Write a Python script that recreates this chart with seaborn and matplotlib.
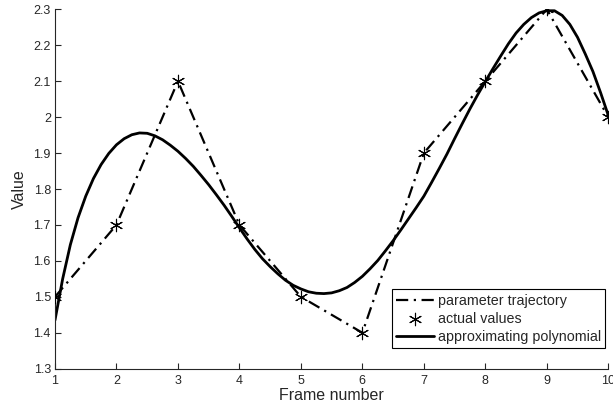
import matplotlib
matplotlib.use("Agg")
import matplotlib.pyplot as plt
import seaborn as sns
import pandas as pd

frames = [1, 2, 3, 4, 5, 6, 7, 8, 9, 10]
actual_values = [1.5, 1.7, 2.1, 1.7, 1.5, 1.4, 1.9, 2.1, 2.3, 2.0]

poly_x = [1.0, 1.125, 1.25, 1.375, 1.5, 1.625, 1.75, 1.875,
          2.0, 2.125, 2.25, 2.375, 2.5, 2.625, 2.75, 2.875,
          3.0, 3.125, 3.25, 3.375, 3.5, 3.625, 3.75, 3.875,
          4.0, 4.125, 4.25, 4.375, 4.5, 4.625, 4.75, 4.875,
          5.0, 5.125, 5.25, 5.375, 5.5, 5.625, 5.75, 5.875,
          6.0, 6.125, 6.25, 6.375, 6.5, 6.625, 6.75, 6.875,
          7.0, 7.125, 7.25, 7.375, 7.5, 7.625, 7.75, 7.875,
          8.0, 8.125, 8.25, 8.375, 8.5, 8.625, 8.75, 8.875,
          9.0, 9.125, 9.25, 9.375, 9.5, 9.625, 9.75, 9.875, 10.0]
poly_y = [1.435, 1.550, 1.645, 1.720, 1.780, 1.829, 1.868, 1.899,
          1.923, 1.940, 1.951, 1.956, 1.955, 1.948, 1.937, 1.922,
          1.905, 1.885, 1.863, 1.838, 1.812, 1.784, 1.755, 1.724,
          1.692, 1.661, 1.632, 1.606, 1.584, 1.564, 1.546, 1.532,
          1.522, 1.514, 1.510, 1.509, 1.511, 1.517, 1.526, 1.540,
          1.557, 1.578, 1.601, 1.628, 1.656, 1.686, 1.717, 1.748,
          1.780, 1.818, 1.857, 1.897, 1.940, 1.982, 2.023, 2.062,
          2.099, 2.135, 2.170, 2.204, 2.234, 2.258, 2.277, 2.290,
          2.296, 2.296, 2.283, 2.258, 2.222, 2.176, 2.127, 2.068, 2.005]

x_ticks = [1, 2, 3, 4, 5, 6, 7, 8, 9, 10]
y_ticks = [1.3, 1.4, 1.5, 1.6, 1.7, 1.8, 1.9, 2.0, 2.1, 2.2, 2.3]
y_tick_labels = ["1.3", "1.4", "1.5", "1.6", "1.7", "1.8", "1.9", "2", "2.1", "2.2", "2.3"]

df_act = pd.DataFrame({"frame": frames, "value": actual_values})
df_poly = pd.DataFrame({"frame": poly_x, "value": poly_y})

sns.set_style("ticks")
plt.rcParams["font.family"] = ["Liberation Sans", "DejaVu Sans"]

fig = plt.figure(figsize=(6.13, 4.08), dpi=100)
ax = fig.add_axes([0.0897, 0.0963, 0.9026, 0.8809])

sns.lineplot(data=df_act, x="frame", y="value", ax=ax, color="black",
             linewidth=1.6, dashes=False, label="parameter trajectory", sort=False)
ax.lines[-1].set_dashes([5.5, 2.5, 1, 2.5])
sns.scatterplot(data=df_act, x="frame", y="value", ax=ax, color="black",
                marker=(6, 2, 0), s=80, linewidth=0.8, label="actual values", zorder=4)
sns.lineplot(data=df_poly, x="frame", y="value", ax=ax, color="black",
             linewidth=2.0, label="approximating polynomial", sort=False)

ax.set_xlim(1, 10)
ax.set_ylim(1.3, 2.3)
ax.set_xticks(x_ticks)
ax.set_xticklabels([str(t) for t in x_ticks])
ax.set_yticks(y_ticks)
ax.set_yticklabels(y_tick_labels)
ax.tick_params(direction="in", length=4, width=0.8, labelsize=9)
ax.tick_params(axis="x", pad=4.5)
ax.tick_params(axis="y", pad=3)
ax.set_xlabel("Frame number", fontsize=11.5, labelpad=1)
ax.set_ylabel("Value", fontsize=11.5, labelpad=5)
for side in ["top", "right"]:
    ax.spines[side].set_visible(False)
for side in ["left", "bottom"]:
    ax.spines[side].set_linewidth(0.8)

leg = ax.legend(loc="lower right", bbox_to_anchor=(0.994, 0.0576), fontsize=10.3,
                frameon=True, fancybox=False, edgecolor="black", framealpha=1,
                handlelength=2.65, handletextpad=0.25, borderpad=0.3,
                labelspacing=0.28, borderaxespad=0)
leg.get_frame().set_linewidth(0.8)

fig.savefig("out.png", dpi=100)
